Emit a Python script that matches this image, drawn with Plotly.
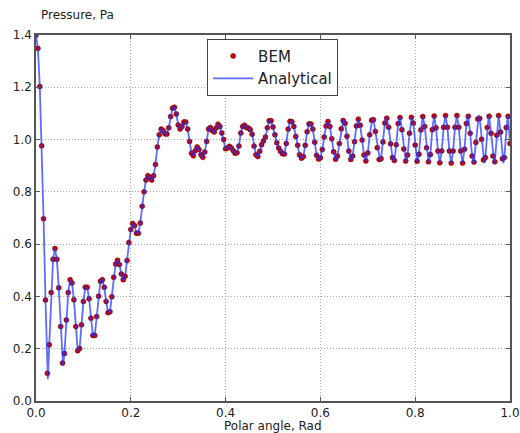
import numpy as np
import plotly.graph_objects as go

# Sample spacing of the BEM solution (polar angle, rad)
ANGLE_STEP = 0.004

# BEM pressure values (Pa) at each sample angle
bem_pressure = [
    1.400, 1.349, 1.203, 0.976, 0.697, 0.386, 0.106, 0.215, 0.415, 0.542,
    0.583, 0.542, 0.433, 0.285, 0.145, 0.182, 0.310, 0.415, 0.464, 0.451,
    0.387, 0.285, 0.192, 0.201, 0.292, 0.381, 0.435, 0.435, 0.391, 0.317,
    0.251, 0.251, 0.323, 0.401, 0.458, 0.464, 0.435, 0.381, 0.338, 0.341,
    0.399, 0.473, 0.524, 0.538, 0.522, 0.486, 0.464, 0.477, 0.537, 0.606,
    0.656, 0.679, 0.671, 0.642, 0.642, 0.681, 0.745, 0.800, 0.845, 0.862,
    0.855, 0.845, 0.862, 0.905, 0.972, 1.018, 1.040, 1.035, 1.022, 1.021,
    1.045, 1.088, 1.120, 1.124, 1.098, 1.056, 1.040, 1.050, 1.067, 1.067,
    1.040, 0.993, 0.948, 0.938, 0.957, 0.972, 0.962, 0.942, 0.932, 0.952,
    0.993, 1.040, 1.046, 1.034, 1.029, 1.044, 1.059, 1.050, 1.025, 1.000,
    0.965, 0.968, 0.974, 0.968, 0.958, 0.948, 0.950, 0.975, 1.025, 1.050,
    1.055, 1.046, 1.044, 1.038, 1.020, 0.975, 0.942, 0.935, 0.955, 0.980,
    0.995, 1.010, 1.045, 1.072, 1.072, 1.048, 1.018, 0.988, 0.968, 0.955,
    0.946, 0.945, 0.985, 1.040, 1.070, 1.068, 1.050, 1.012, 0.978, 0.942,
    0.929, 0.935, 0.978, 1.030, 1.060, 1.060, 1.040, 0.990, 0.940, 0.926,
    0.930, 0.962, 1.010, 1.052, 1.069, 1.050, 1.003, 0.953, 0.925, 0.937,
    0.985, 1.041, 1.073, 1.062, 1.013, 0.956, 0.924, 0.937, 0.992, 1.052,
    1.078, 1.055, 0.998, 0.941, 0.918, 0.949, 1.018, 1.074, 1.076, 1.031,
    0.969, 0.924, 0.927, 0.991, 1.063, 1.082, 1.047, 0.984, 0.931, 0.920,
    0.980, 1.061, 1.084, 1.038, 0.964, 0.918, 0.941, 1.024, 1.085, 1.063,
    0.979, 0.917, 0.944, 1.037, 1.088, 1.050, 0.969, 0.915, 0.943, 1.038,
    1.090, 1.045, 0.956, 0.911, 0.956, 1.047, 1.092, 1.047, 0.956, 0.910,
    0.956, 1.047, 1.092, 1.047, 0.956, 0.910, 0.963, 1.061, 1.089, 1.024,
    0.937, 0.914, 0.989, 1.079, 1.081, 1.001, 0.922, 0.931, 1.046, 1.089,
    1.024, 0.937, 0.915, 1.017, 1.092, 1.029, 0.927, 0.931, 1.046, 1.089,
    0.985,
]

# Analytical curve: extra extrema (peaks / troughs) read between samples
analytical_peak_x = [0.616, 0.649, 0.680, 0.710, 0.739, 0.767, 0.793, 0.816,
                     0.840, 0.864, 0.888, 0.911, 0.934, 0.955, 0.976, 0.995]
analytical_peak_y = [1.069, 1.075, 1.078, 1.082, 1.084, 1.086, 1.088, 1.088,
                     1.090, 1.092, 1.092, 1.092, 1.093, 1.092, 1.092, 1.092]
analytical_trough_x = [0.025, 0.057, 0.598, 0.633, 0.665, 0.696, 0.726, 0.755,
                       0.781, 0.805, 0.829, 0.852, 0.876, 0.900, 0.923, 0.946,
                       0.967, 0.986]
analytical_trough_y = [0.083, 0.135, 0.926, 0.924, 0.922, 0.918, 0.918, 0.917,
                       0.916, 0.914, 0.912, 0.911, 0.910, 0.910, 0.910, 0.910,
                       0.910, 0.910]

x_ticks = [0.0, 0.2, 0.4, 0.6, 0.8, 1.0]
y_ticks = [0.0, 0.2, 0.4, 0.6, 0.8, 1.0, 1.2, 1.4]

bem_angle = np.arange(len(bem_pressure)) * ANGLE_STEP

ana_x = np.concatenate([bem_angle, analytical_peak_x, analytical_trough_x])
ana_y = np.concatenate([bem_pressure, analytical_peak_y, analytical_trough_y])
order = np.argsort(ana_x, kind="stable")
ana_x = ana_x[order]
ana_y = ana_y[order]

FONT = "DejaVu Sans"

fig = go.Figure()
fig.add_trace(go.Scatter(
    x=bem_angle, y=bem_pressure, mode="markers", name="BEM",
    marker=dict(size=5, color="#d40000", line=dict(width=0.5, color="#5a0000")),
))
fig.add_trace(go.Scatter(
    x=ana_x, y=ana_y, mode="lines", name="Analytical",
    line=dict(color="rgba(30,50,255,0.72)", width=1.8),
))

axis_common = dict(
    showgrid=True, gridcolor="#a8a8a8", griddash="1px,2px", gridwidth=1,
    showline=True, linecolor="#555555", linewidth=1.5, mirror="allticks",
    ticks="inside", ticklen=4, tickcolor="#555555", tickwidth=1,
    tickfont=dict(family=FONT, size=12, color="#222222"),
    zeroline=False, tickformat=".1f", automargin=False,
)

fig.update_layout(
    width=520, height=433,
    margin=dict(l=36, r=10, t=35, b=32),
    paper_bgcolor="white", plot_bgcolor="white",
    font=dict(family=FONT, color="#222222"),
    xaxis=dict(range=[0, 1.0], tickvals=x_ticks, **axis_common),
    yaxis=dict(range=[0, 1.4], tickvals=y_ticks, **axis_common),
    legend=dict(
        x=0.361, y=0.99, xanchor="left", yanchor="top",
        bgcolor="white", bordercolor="#444444", borderwidth=1,
        itemwidth=40,
        font=dict(family=FONT, size=15, color="#222222"),
    ),
    annotations=[
        dict(text="Pressure, Pa", xref="paper", yref="paper", x=0.006, y=1.055,
             xanchor="left", yanchor="middle", showarrow=False,
             font=dict(family=FONT, size=12, color="#222222")),
        dict(text="Polar angle, Rad", xref="paper", yref="paper", x=0.5, y=-0.068,
             xanchor="center", yanchor="middle", showarrow=False,
             font=dict(family=FONT, size=12, color="#222222")),
    ],
)

fig.write_html("out.html", config={"displayModeBar": False},
               post_script="document.body.style.margin='0px';")
